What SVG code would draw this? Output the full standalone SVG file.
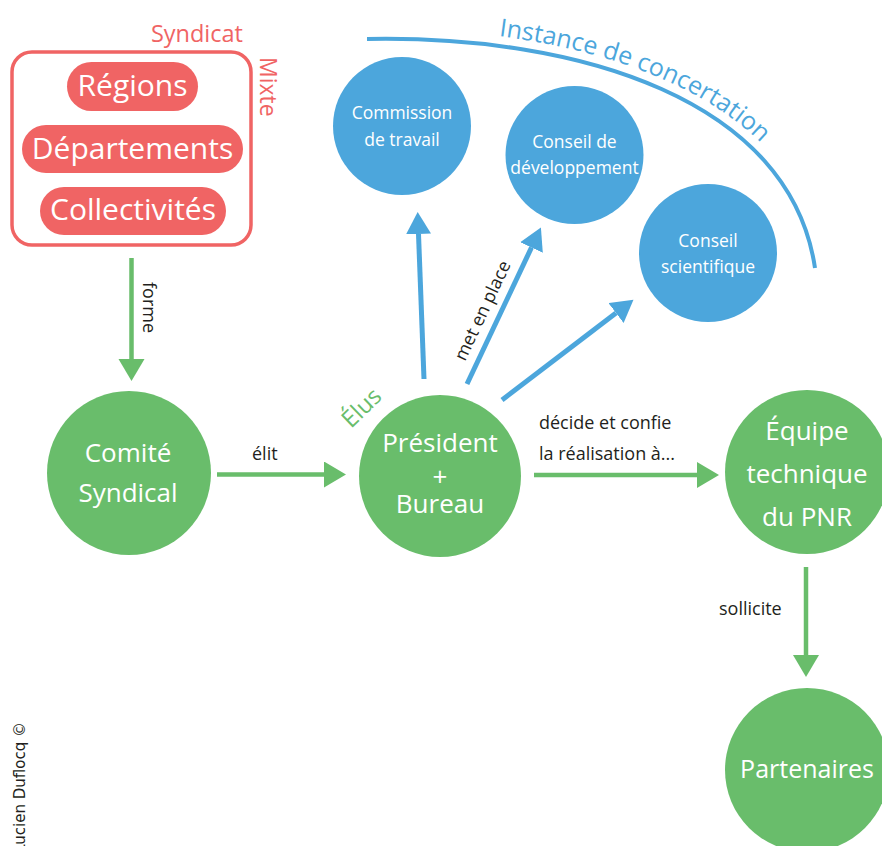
<svg xmlns="http://www.w3.org/2000/svg" width="882" height="846" viewBox="0 0 882 846">
<style>
text{font-family:"Open Sans","Noto Sans",sans-serif}
.w{fill:#fff}
.g{fill:#69bd6b}
.b{fill:#4ca6dc}
.r{fill:#f06464}
.lbl{fill:#231f20;font-size:18px}
.gl{stroke:#69bd6b;stroke-width:4.5;fill:none}
.bl{stroke:#4ca6dc;stroke-width:5;fill:none}
.mid{text-anchor:middle}
.copy{font-family:"DejaVu Sans",sans-serif}
</style>
<defs>
<marker id="ag" markerUnits="userSpaceOnUse" markerWidth="24" markerHeight="28" refX="0" refY="13" orient="auto"><path d="M0,0 L22,13 L0,26 Z" fill="#69bd6b"/></marker>
<marker id="ab" markerUnits="userSpaceOnUse" markerWidth="24" markerHeight="27" refX="0" refY="12.5" orient="auto"><path d="M0,0 L22,12.5 L0,25 Z" fill="#4ca6dc"/></marker>
<path id="arcText" d="M367,29 C582,25 800,93 825,266"/>
</defs>

<g id="syndicat">
<rect x="12" y="52" width="239" height="193" rx="20" fill="none" stroke="#f06464" stroke-width="3.5"/>
<text x="243" y="42" class="r" font-size="23.5" text-anchor="end">Syndicat</text>
<text transform="translate(260,57) rotate(90)" class="r" font-size="23">Mixte</text>
<g id="regions"><rect x="67" y="62" width="131" height="49" rx="24.5" class="r"/><text x="132.5" y="96" class="w mid" font-size="30">Régions</text></g>
<g id="departements"><rect x="22" y="125" width="221" height="48" rx="24" class="r"/><text x="132.5" y="159" class="w mid" font-size="30">Départements</text></g>
<g id="collectivites"><rect x="40" y="187" width="186" height="48" rx="24" class="r"/><text x="133" y="220" class="w mid" font-size="30">Collectivités</text></g>
</g>

<g id="instance">
<path d="M367,39 C580,35 790,100 815,268" fill="none" stroke="#4ca6dc" stroke-width="4"/>
<text class="b" font-size="25"><textPath href="#arcText" startOffset="132">Instance de concertation</textPath></text>
</g>

<g id="commission"><circle cx="402" cy="126" r="69" class="b"/><text x="402" y="119" class="w mid" font-size="17.5">Commission</text><text x="402" y="146" class="w mid" font-size="17.5">de travail</text></g>
<g id="conseil-dev"><circle cx="574.5" cy="155" r="69" class="b"/><text x="574.5" y="148" class="w mid" font-size="17.5">Conseil de</text><text x="574.5" y="174" class="w mid" font-size="17.5">développement</text></g>
<g id="conseil-sci"><circle cx="708" cy="253" r="69" class="b"/><text x="708" y="247" class="w mid" font-size="17.5">Conseil</text><text x="708" y="273" class="w mid" font-size="17.5">scientifique</text></g>

<g id="comite"><circle cx="129" cy="473" r="82" class="g"/><text x="128" y="462" class="w mid" font-size="26">Comité</text><text x="128" y="502" class="w mid" font-size="26">Syndical</text></g>
<g id="president"><circle cx="440" cy="476" r="81" class="g"/><text x="440" y="452" class="w mid" font-size="26">Président</text><text x="440" y="486" class="w mid" font-size="26">+</text><text x="440" y="513" class="w mid" font-size="26">Bureau</text>
<text transform="translate(351,429) rotate(-44)" class="g" font-size="23.5">Élus</text></g>
<g id="equipe"><circle cx="807" cy="472" r="82" class="g"/><text x="807" y="440" class="w mid" font-size="26">Équipe</text><text x="807" y="483" class="w mid" font-size="26">technique</text><text x="807" y="526" class="w mid" font-size="26">du PNR</text></g>
<g id="partenaires"><circle cx="807" cy="770" r="82" class="g"/><text x="807" y="778" class="w mid" font-size="25">Partenaires</text></g>

<g id="connectors">
<line x1="131.5" y1="258" x2="131.5" y2="359" class="gl" marker-end="url(#ag)"/>
<text transform="translate(143,282) rotate(90)" class="lbl">forme</text>
<line x1="217" y1="474.5" x2="324" y2="474.5" class="gl" marker-end="url(#ag)"/>
<text x="252" y="460" class="lbl">élit</text>
<line x1="534" y1="475" x2="697" y2="475" class="gl" marker-end="url(#ag)"/>
<text x="539" y="429" class="lbl">décide et confie</text>
<text x="539" y="460" class="lbl">la réalisation à...</text>
<line x1="806" y1="567" x2="806" y2="655" class="gl" marker-end="url(#ag)"/>
<text x="719" y="615" class="lbl">sollicite</text>
<line x1="424" y1="379" x2="418.5" y2="234" class="bl" marker-end="url(#ab)"/>
<line x1="467" y1="384" x2="531.5" y2="247.5" class="bl" marker-end="url(#ab)"/>
<text transform="translate(465,362) rotate(-64.7)" class="lbl">met en place</text>
<line x1="502" y1="400" x2="616" y2="313" class="bl" marker-end="url(#ab)"/>
</g>

<text transform="translate(25,722) rotate(-90)" class="copy" font-size="15" fill="#231f20" text-anchor="end">Lucien Duflocq ©</text>
</svg>
